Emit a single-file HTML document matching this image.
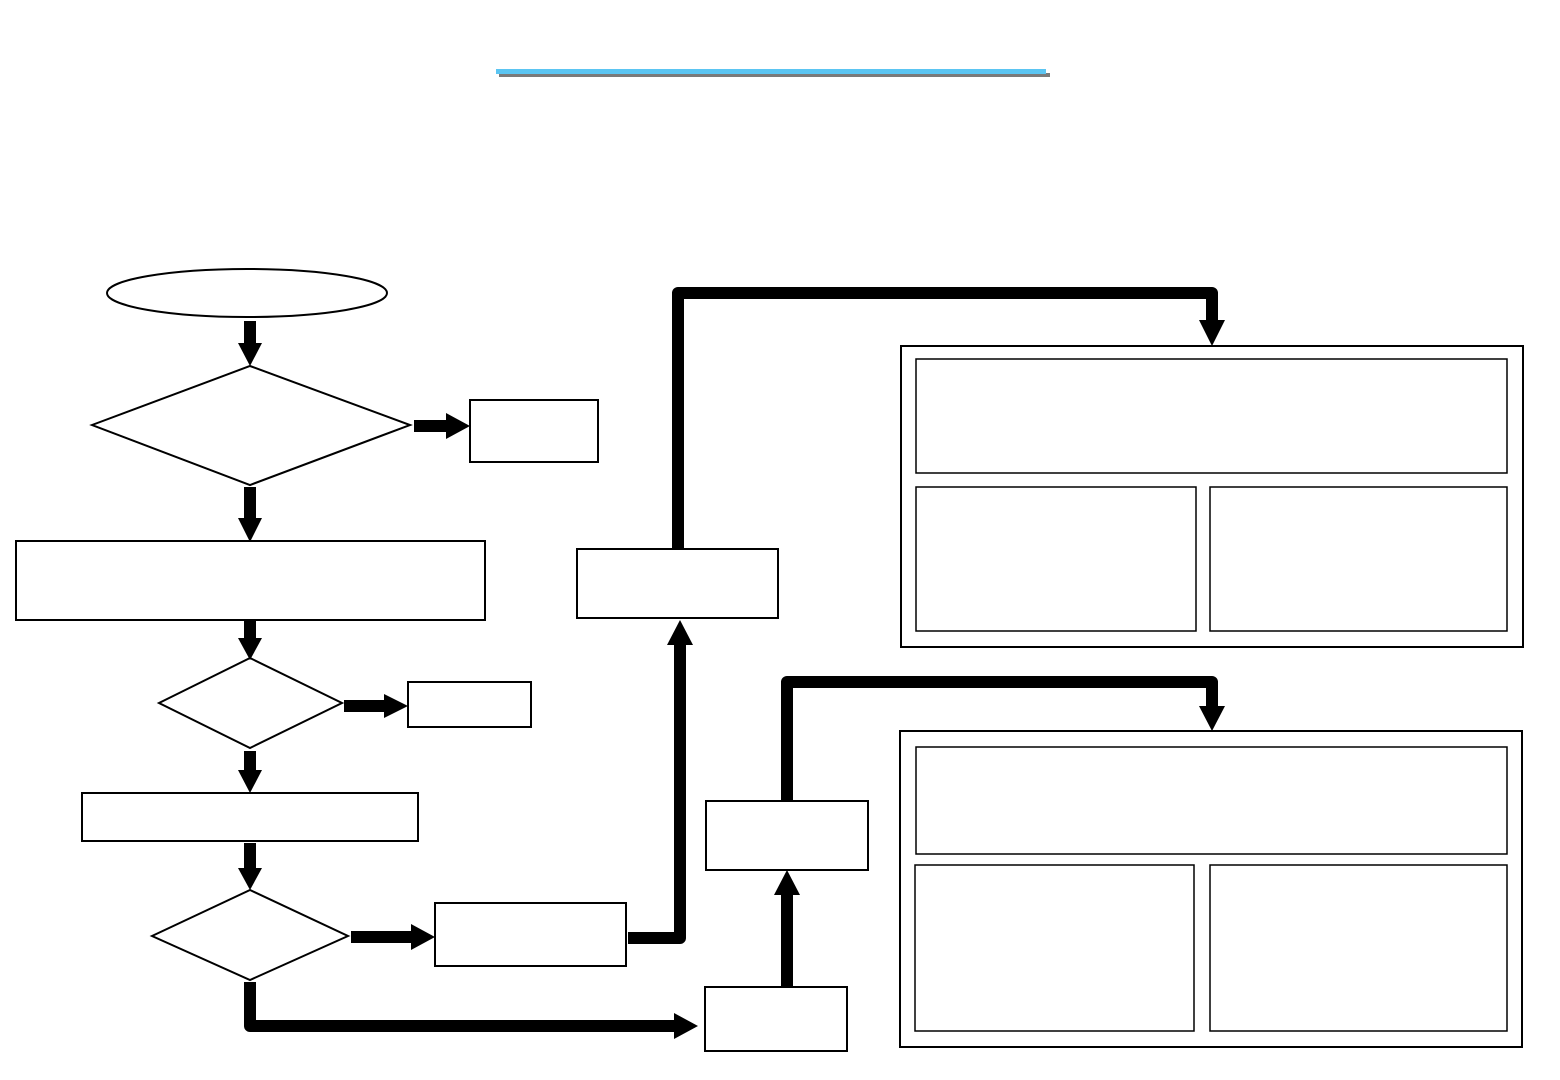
<!DOCTYPE html>
<html><head><meta charset="utf-8"><style>html,body{margin:0;padding:0;background:#fff}svg{display:block}</style></head>
<body>
<svg width="1560" height="1080" viewBox="0 0 1560 1080" xmlns="http://www.w3.org/2000/svg">
<rect x="499" y="73" width="551" height="4" fill="#7a7a7a"/>
<rect x="496" y="69" width="550" height="5" fill="#5bc5f2"/>
<g fill="none" stroke="#000" stroke-width="2">
<ellipse cx="247" cy="293" rx="140" ry="24"/>
<polygon points="92,425 250,366 410,425 250,485"/>
<rect x="470" y="400" width="128" height="62"/>
<rect x="16" y="541" width="469" height="79"/>
<polygon points="159,703 250,658 342,703 250,748"/>
<rect x="408" y="682" width="123" height="45"/>
<rect x="82" y="793" width="336" height="48"/>
<polygon points="152,936 250,890 348,936 250,980"/>
<rect x="435" y="903" width="191" height="63"/>
<rect x="577" y="549" width="201" height="69"/>
<rect x="705" y="987" width="142" height="64"/>
<rect x="706" y="801" width="162" height="69"/>
<rect x="901" y="346" width="622" height="301"/>
<rect x="916" y="359" width="591" height="114" stroke-width="1.5"/>
<rect x="916" y="487" width="280" height="144" stroke-width="1.5"/>
<rect x="1210" y="487" width="297" height="144" stroke-width="1.5"/>
<rect x="900" y="731" width="622" height="316"/>
<rect x="916" y="747" width="591" height="107" stroke-width="1.5"/>
<rect x="915" y="865" width="279" height="166" stroke-width="1.5"/>
<rect x="1210" y="865" width="297" height="166" stroke-width="1.5"/>
</g>
<g fill="none" stroke="#000" stroke-width="12" stroke-linejoin="round">
<line x1="250" y1="321" x2="250" y2="345"/>
<line x1="414" y1="426" x2="448" y2="426"/>
<line x1="250" y1="487" x2="250" y2="520"/>
<line x1="250" y1="620" x2="250" y2="640"/>
<line x1="344" y1="706" x2="386" y2="706"/>
<line x1="250" y1="751" x2="250" y2="772"/>
<line x1="250" y1="843" x2="250" y2="870"/>
<line x1="351" y1="937" x2="413" y2="937"/>
<polyline points="628,938 680,938 680,642"/>
<polyline points="678,549 678,293 1212,293 1212,322"/>
<polyline points="250,982 250,1026 676,1026"/>
<line x1="787" y1="987" x2="787" y2="893"/>
<polyline points="787,801 787,682 1212,682 1212,708"/>
</g>
<g fill="#000">
<polygon points="238,343 262,343 250,366"/>
<polygon points="446,413 446,439 470,426"/>
<polygon points="238,518 262,518 250,542"/>
<polygon points="238,638 262,638 250,660"/>
<polygon points="384,694 384,718 408,706"/>
<polygon points="238,770 262,770 250,793"/>
<polygon points="238,868 262,868 250,890"/>
<polygon points="411,924 411,950 435,937"/>
<polygon points="667,645 693,645 680,620"/>
<polygon points="1199,320 1225,320 1212,346"/>
<polygon points="674,1013 674,1039 698,1026"/>
<polygon points="774,895 800,895 787,870"/>
<polygon points="1199,706 1225,706 1212,731"/>
</g>
</svg>
</body></html>
